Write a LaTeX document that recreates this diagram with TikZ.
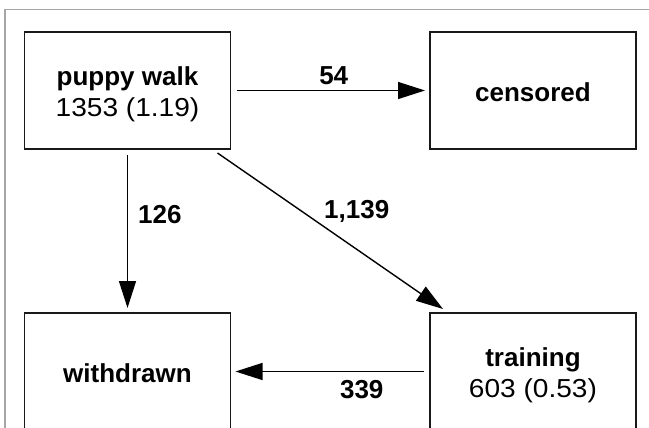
\documentclass[tikz,border=0pt]{standalone}
\usepackage{fontspec}
\setmainfont{Liberation Sans}
\newfontfamily\widefont{Liberation Sans}[FakeStretch = 1.08]
\usetikzlibrary{arrows.meta}

\begin{document}
\begin{tikzpicture}[x = 1pt, y = -1pt,
    box/.style = {draw = black!90, line width = 1.8pt, outer sep = 0pt, minimum width = 206pt, minimum height = 117pt, align = center, font = \fontsize{26}{31}\selectfont},
    oneline/.style = {box, text height = 22.5pt, text depth = 0pt},
    twoline/.style = {box, text height = 58pt, text depth = 5.5pt},
    flow/.style = {line width = 1.4pt, -{Triangle[length = 27pt, width = 17pt]}, shorten < = 6pt, shorten > = 5pt},
    count/.style = {inner sep = 0pt, font = \fontsize{26}{31}\selectfont\bfseries}]
    \useasboundingbox (0, 0) rectangle (649, 428);
    \clip (0, 0) rectangle (649, 428);
    \draw [black!35, line width = 1.2pt] (5, 428) |- (649, 9.5);
    \node [twoline] (pw) at (127.5, 90.5) {\textbf{puppy walk}\\{\widefont 1353 (1.19)}};
    \node [oneline] (cens) at (533, 90.5) {\textbf{censored}};
    \node [oneline] (wd) at (127.5, 371.5) {\textbf{withdrawn}};
    \node [twoline] (tr) at (533, 371.5) {\textbf{training}\\{\widefont 603 (0.53)}};
    \draw [flow] (pw) -- node [count, above = 5pt, xshift = 3.5pt] {54} (cens);
    \draw [flow] (pw) -- node [count, right = 10pt, pos = 0.4] {126} (wd);
    \draw [flow, shorten < = 0pt, shorten > = 0pt] ([xshift = -13pt, yshift = -4pt] pw.south east) -- node [count, xshift = 26.5pt, yshift = 20pt] {1,139} ([xshift = 13pt, yshift = 4pt] tr.north west);
    \draw [flow] (tr) -- node [count, below = 8pt, xshift = 31.5pt] {339} (wd);
\end{tikzpicture}
\end{document}
